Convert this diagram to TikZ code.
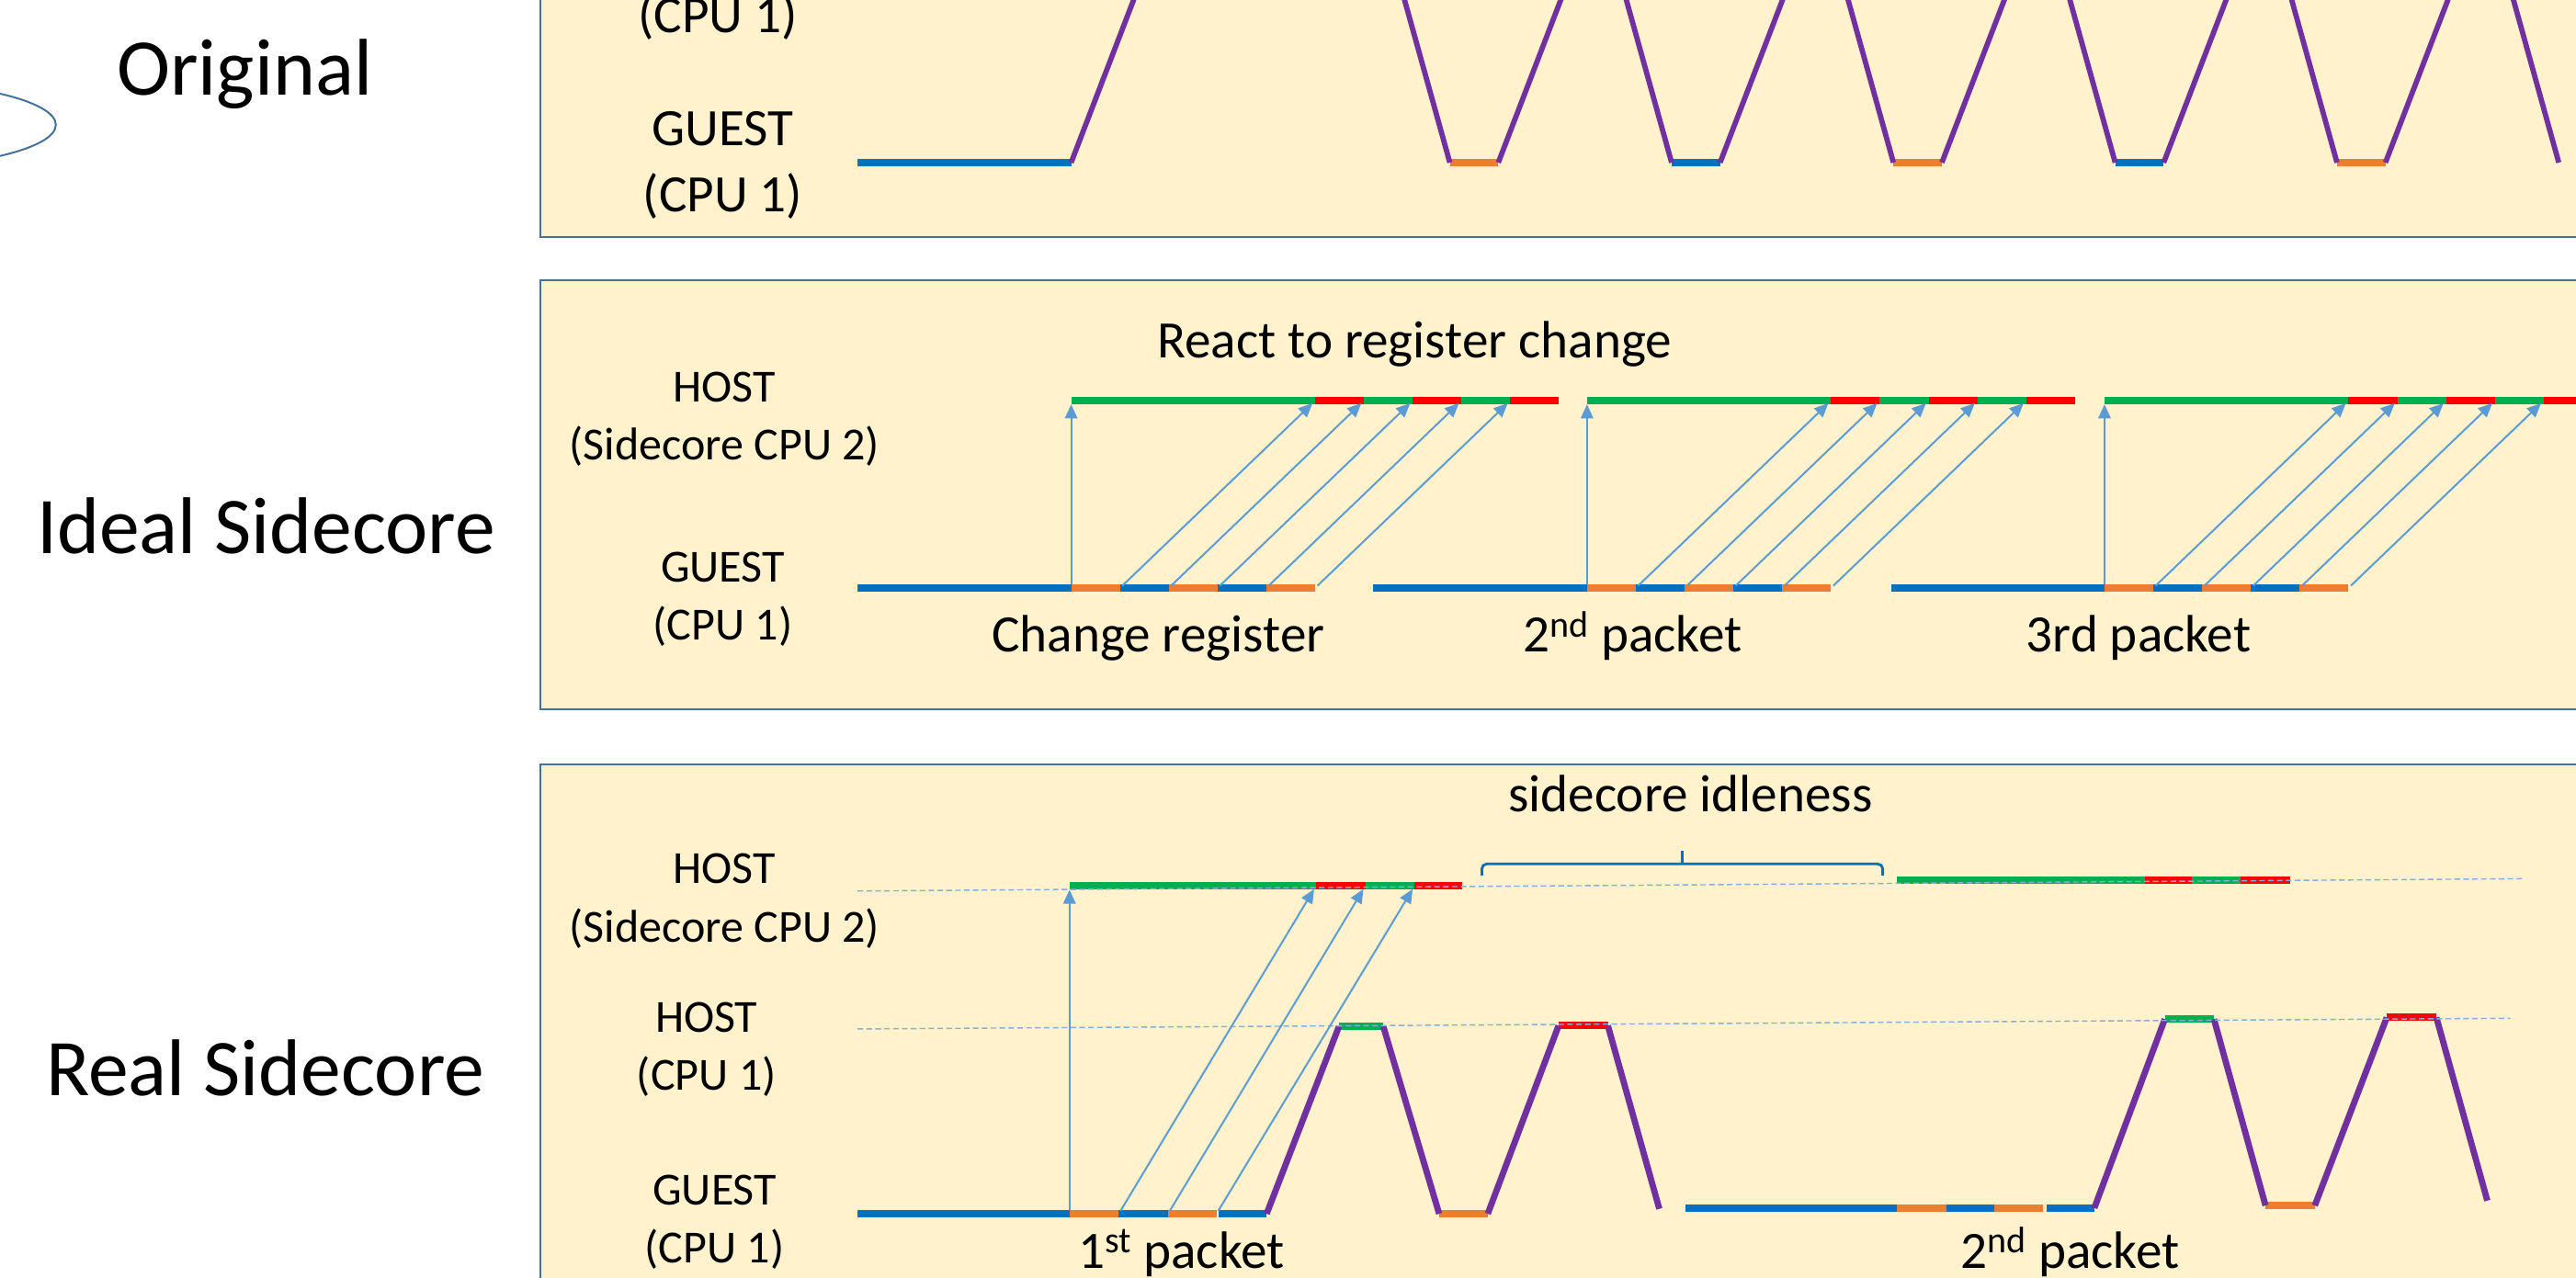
\documentclass[tikz,border=0pt]{standalone}
\usepackage{fontspec}
\setmainfont{Carlito}
\usetikzlibrary{arrows.meta}

\definecolor{panelfill}{HTML}{FFF2CC}
\definecolor{panelline}{HTML}{41719C}
\definecolor{guestblue}{HTML}{0070C0}
\definecolor{exitorange}{HTML}{ED7D31}
\definecolor{pollgreen}{HTML}{00B050}
\definecolor{handlered}{HTML}{FF0000}
\definecolor{switchpurple}{HTML}{7030A0}
\definecolor{notifyblue}{HTML}{5B9BD5}
\definecolor{levelblue}{HTML}{86AEDB}

\tikzset{
  panel/.style={draw=panelline, line width=1.3pt, fill=panelfill},
  seg/.style={line width=4.5pt},
  guestseg/.style={seg, draw=guestblue},
  exitseg/.style={seg, draw=exitorange},
  pollseg/.style={seg, draw=pollgreen},
  handleseg/.style={seg, draw=handlered},
  switchthin/.style={draw=switchpurple, line width=3.2pt},
  switchline/.style={draw=switchpurple, line width=3.8pt},
  notify/.style={draw=notifyblue, line width=1.1pt, shorten <=2pt, shorten >=2.2pt,
    -{Triangle[length=8.5pt,width=7.5pt]}},
  level/.style={draw=levelblue, line width=0.8pt, dash pattern=on 3.4pt off 2pt},
  idlebrace/.style={draw=guestblue, line width=1.6pt, rounded corners=3pt},
  title/.style={font=\fontsize{49}{59}\selectfont},
  biglabel/.style={font=\fontsize{32}{40}\selectfont, align=center},
  cpulabel/.style={font=\fontsize{28}{35.5}\selectfont, align=center},
  note/.style={font=\fontsize{32}{38}\selectfont},
}

\begin{document}
\begin{tikzpicture}[x=1pt,y=-1pt]
\clip (0,0) rectangle (1568,777.6);

% the three panels
\draw[panel] (329,-30) rectangle (1600,144.5);
\draw[panel] (329,170.6) rectangle (1600,431.7);
\draw[panel] (329,465.4) rectangle (1600,800);
\draw[panelline, line width=1.1pt] (-82,76) ellipse [x radius=116, y radius=26.8];

\node[title, anchor=base] (original) at (149,57.8) {Original};
\node[title, anchor=base] (ideal) at (162,337) {Ideal Sidecore};
\node[title, anchor=base] (real) at (161.5,667) {Real Sidecore};

%% Original
\node[biglabel, anchor=base] (orighost) at (437,19.6) {(CPU 1)};
\node[biglabel, anchor=base] (origguest) at (440,128.7) {GUEST\\(CPU 1)};

\coordinate (o-s) at (522,99);
\coordinate (o-0) at (652,99);
\coordinate (o-top0) at (694.6,-12);
\draw[guestseg] (o-s) -- (o-0);
\draw[switchthin] (o-0) -- (o-top0);
\foreach \k/\sty in {1/exitseg,2/guestseg,3/exitseg,4/guestseg,5/exitseg}{
  \coordinate (o-in\k) at (747.5+135*\k,99);
  \coordinate (o-out\k) at (777+135*\k,99);
  \coordinate (o-din\k) at (716.6+135*\k,-12);
  \coordinate (o-dout\k) at (819.6+135*\k,-12);
  \draw[\sty] (o-in\k) -- (o-out\k);
  \draw[switchthin] (o-din\k) -- (o-in\k);
  \draw[switchthin] (o-out\k) -- (o-dout\k);
}
\coordinate (o-in6) at (1557.5,99);
\coordinate (o-din6) at (1526.6,-12);
\draw[switchthin] (o-din6) -- (o-in6);

%% Ideal sidecore
\node[cpulabel, anchor=base] (idealhost) at (441,280) {HOST\\(Sidecore CPU 2)};
\node[cpulabel, anchor=base] (idealguest) at (440,389.7) {GUEST\\(CPU 1)};
\node[note, anchor=base] (react) at (861,217.8) {React to register change};
\node[note, anchor=base] (chreg) at (705,397) {Change register};
\node[note, anchor=base] (pkt2) at (993.7,397) {2\textsuperscript{nd} packet};
\node[note, anchor=base] (pkt3) at (1301.7,397) {3rd packet};

\foreach \gx/\gi in {652/1,966/2,1281/3}{
  \coordinate (g\gi-s) at (\gx-130,358);
  \foreach \k in {0,...,5}
    \coordinate (g\gi-\k) at (\gx+29.7*\k,358);
  \coordinate (h\gi-0) at (\gx,244);
  \foreach \k in {1,...,6}
    \coordinate (h\gi-\k) at (\gx+118.8+29.7*\k,244);
  \draw[guestseg] (g\gi-s) -- (g\gi-0);
  \foreach \a/\b/\sty in {0/1/exitseg,1/2/guestseg,2/3/exitseg,3/4/guestseg,4/5/exitseg}
    \draw[\sty] (g\gi-\a) -- (g\gi-\b);
  \foreach \a/\b/\sty in {0/1/pollseg,1/2/handleseg,2/3/pollseg,3/4/handleseg,4/5/pollseg,5/6/handleseg}
    \draw[\sty] (h\gi-\a) -- (h\gi-\b);
  \foreach \k in {0,...,5}
    \draw[notify] (g\gi-\k) -- (h\gi-\k);
}

%% Real sidecore
\node[cpulabel, anchor=base] (realside) at (441,573.6) {HOST\\(Sidecore CPU 2)};
\node[cpulabel, anchor=base] (realhost) at (430,664) {HOST\\(CPU 1)};
\node[cpulabel, anchor=base] (realguest) at (435,769) {GUEST\\(CPU 1)};
\node[note, anchor=base] (idle) at (1029,494) {sidecore idleness};
\node[note, anchor=base] (rpkt1) at (719,772) {1\textsuperscript{st} packet};
\node[note, anchor=base] (rpkt2) at (1260,772) {2\textsuperscript{nd} packet};

% sidecore host
\foreach \k/\x in {0/651,1/801,2/831,3/861,4/890}
  \coordinate (s1-\k) at (\x,539.5);
\foreach \k/\x in {0/1154.6,1/1305.7,2/1334,3/1364,4/1394}
  \coordinate (s2-\k) at (\x,536);
\foreach \i in {1,2}
  \foreach \a/\b/\sty in {0/1/pollseg,1/2/handleseg,2/3/pollseg,3/4/handleseg}
    \draw[\sty] (s\i-\a) -- (s\i-\b);

% guest
\foreach \k/\x in {0/522,1/651,2/681,3/711,4/740.5,5/742,6/771}
  \coordinate (r1-\k) at (\x,739);
\foreach \k/\x in {0/1026,1/1154.6,2/1184.8,3/1213.8,4/1243.5,5/1245.7,6/1274.8}
  \coordinate (r2-\k) at (\x,735.5);
\foreach \i in {1,2}
  \foreach \a/\b/\sty in {0/1/guestseg,1/2/exitseg,2/3/guestseg,3/4/exitseg,5/6/guestseg}
    \draw[\sty] (r\i-\a) -- (r\i-\b);

% host on cpu 1
\coordinate (k1a) at (815,625);     \coordinate (k1b) at (842,625);
\coordinate (k2a) at (948.7,624.5); \coordinate (k2b) at (978.7,624.5);
\coordinate (k3a) at (1317.7,620.5);\coordinate (k3b) at (1347.6,620.5);
\coordinate (k4a) at (1452.8,619.5);\coordinate (k4b) at (1483,619.5);
\coordinate (e1a) at (876,739);     \coordinate (e1b) at (905.6,739);
\coordinate (e2a) at (1379,734);    \coordinate (e2b) at (1409,734);
\coordinate (x1) at (1010,736);     \coordinate (x2) at (1514,731);
\draw[pollseg] (k1a) -- (k1b);
\draw[handleseg] (k2a) -- (k2b);
\draw[pollseg] (k3a) -- (k3b);
\draw[handleseg] (k4a) -- (k4b);
\draw[exitseg] (e1a) -- (e1b);
\draw[exitseg] (e2a) -- (e2b);
\draw[switchline] (r1-6) -- (k1a) (k1b) -- (e1a) (e1b) -- (k2a) (k2b) -- (x1)
  (r2-6) -- (k3a) (k3b) -- (e2a) (e2b) -- (k4a) (k4b) -- (x2);

% levels
\coordinate (lv1a) at (522,542.5); \coordinate (lv1b) at (1537,535);
\coordinate (lv2a) at (522,626.5); \coordinate (lv2b) at (1528,620);
\draw[level] (lv1a) -- (lv1b);
\draw[level] (lv2a) -- (lv2b);

\draw[notify] (r1-1) -- (s1-0);
\draw[notify] (r1-2) -- (s1-1);
\draw[notify] (r1-3) -- (s1-2);
\draw[notify] (r1-4) -- (s1-3);

% idle time
\coordinate (br-l) at (902,533);
\coordinate (br-c) at (1024,526);
\coordinate (br-m) at (1024,518);
\coordinate (br-r) at (1146,533);
\draw[idlebrace] (br-l) |- (br-c) -| (br-r);
\draw[idlebrace] (br-c) -- (br-m);
\end{tikzpicture}
\end{document}
